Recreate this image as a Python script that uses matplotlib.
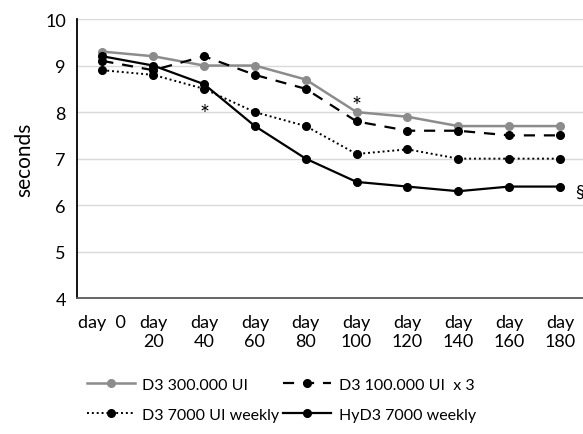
import matplotlib
matplotlib.use("Agg")
import matplotlib.pyplot as plt

plt.rcParams['font.family'] = ['Lato', 'DejaVu Sans']

days = ["day  0", "day\n20", "day\n40", "day\n60", "day\n80",
        "day\n100", "day\n120", "day\n140", "day\n160", "day\n180"]
d3_300000 = [9.3, 9.2, 9.0, 9.0, 8.7, 8.0, 7.9, 7.7, 7.7, 7.7]
d3_100000x3 = [9.1, 8.9, 9.2, 8.8, 8.5, 7.8, 7.6, 7.6, 7.5, 7.5]
d3_7000 = [8.9, 8.8, 8.5, 8.0, 7.7, 7.1, 7.2, 7.0, 7.0, 7.0]
hyd3_7000 = [9.2, 9.0, 8.6, 7.7, 7.0, 6.5, 6.4, 6.3, 6.4, 6.4]

fs = 13

fig = plt.figure(figsize=(5.83, 4.35), dpi=100)
ax = fig.add_axes([0.132, 0.312, 0.872, 0.642])
x = range(len(days))

l1, = ax.plot(x, d3_300000, color='#8c8c8c', lw=1.8, marker='o', ms=5.5, label='D3 300.000 UI')
l2, = ax.plot(x, d3_100000x3, color='black', lw=1.6, ls=(0, (5, 4)), marker='o', ms=5.5,
              label='D3 100.000 UI  x 3')
l3, = ax.plot(x, d3_7000, color='black', lw=1.4, ls=(0, (1, 1.5)), marker='o', ms=5.5,
              label='D3 7000 UI weekly')
l4, = ax.plot(x, hyd3_7000, color='black', lw=1.6, marker='o', ms=5.5, label='HyD3 7000 weekly')

# significance marks
ax.text(2, 7.98, '*', ha='center', va='center', fontsize=17)
ax.text(5, 8.15, '*', ha='center', va='center', fontsize=17)
ax.text(9.3, 6.28, '§', ha='left', va='center', fontsize=13, clip_on=False)

ax.set_xlim(-0.5, 9.5)
ax.set_ylim(4, 10)
ax.set_yticks(range(4, 11))
ax.set_xticks(list(x))
ax.set_xticklabels(days, fontsize=fs, va='top', linespacing=1.3)
ax.tick_params(axis='y', labelsize=fs, length=0, pad=8)
ax.tick_params(axis='x', length=0, pad=11)
ax.set_ylabel('seconds', fontsize=15, labelpad=8)

ax.grid(axis='y', color='#d9d9d9', lw=1)
ax.set_axisbelow(True)
for s in ['top', 'right']:
    ax.spines[s].set_visible(False)
ax.spines['left'].set_color('black')
ax.spines['left'].set_linewidth(1.3)
ax.spines['bottom'].set_color('#595959')
ax.spines['bottom'].set_linewidth(1.3)

fig.legend([l1, l3, l2, l4], [l1.get_label(), l3.get_label(), l2.get_label(), l4.get_label()],
           loc='lower left', bbox_to_anchor=(0.125, -0.005), ncol=2, frameon=False,
           fontsize=11.5, handlelength=3.0, columnspacing=0.25, handletextpad=0.45,
           labelspacing=1.0)

fig.savefig('out.png', dpi=100)
